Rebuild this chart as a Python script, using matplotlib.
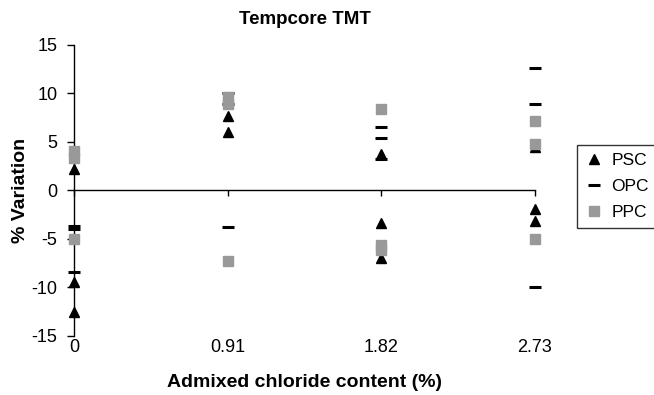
import matplotlib
matplotlib.use("Agg")
import matplotlib.pyplot as plt

plt.rcParams['font.family'] = ['Liberation Sans', 'DejaVu Sans']
plt.rcParams['axes.unicode_minus'] = False

x_ticks = [0, 0.91, 1.82, 2.73]
x_labels = ['0', '0.91', '1.82', '2.73']

# % variation per admixed chloride level
psc_x = [0, 0, 0, 0.91, 0.91, 1.82, 1.82, 1.82, 2.73, 2.73, 2.73]
psc_y = [2.2, -9.4, -12.5, 7.6, 6.0, 3.7, -3.4, -7.0, 4.4, -1.9, -3.2]

opc_x = [0, 0, 0, 0.91, 0.91, 0.91, 1.82, 1.82, 1.82, 2.73, 2.73, 2.73]
opc_y = [-3.7, -4.0, -8.4, 10.0, 8.9, -3.8, 6.5, 5.4, 3.2, 12.6, 8.9, -10.0]

ppc_x = [0, 0, 0, 0.91, 0.91, 0.91, 1.82, 1.82, 1.82, 2.73, 2.73, 2.73]
ppc_y = [4.0, 3.3, -5.0, 9.6, 8.9, -7.3, 8.4, -5.6, -6.1, 7.1, 4.8, -5.0]

fig = plt.figure(figsize=(6.54, 3.95), dpi=100)
ax = fig.add_axes([74/654, 1-336/395, (535-74)/654, (336-44.5)/395])

ax.plot(psc_x, psc_y, ls='none', marker='^', ms=7, color='black',
        label='PSC', clip_on=False, zorder=3)
ax.plot(opc_x, opc_y, ls='none', marker='_', ms=8, mew=2.2, color='black',
        label='OPC', clip_on=False, zorder=4)
ax.plot(ppc_x, ppc_y, ls='none', marker='s', ms=6.5, color='#999999',
        label='PPC', clip_on=False, zorder=5)

ax.set_xlim(0, 2.73)
ax.set_ylim(-15, 15)
ax.set_yticks(range(-15, 16, 5))
ax.tick_params(axis='y', direction='out', length=5, width=1, labelsize=13, pad=7)

# category axis crosses at zero, labels sit below the plot
for s in ['top', 'right']:
    ax.spines[s].set_visible(False)
ax.spines['left'].set_linewidth(1)
ax.spines['bottom'].set_position(('data', 0))
ax.spines['bottom'].set_linewidth(1)
ax.set_xticks(x_ticks)
ax.tick_params(axis='x', direction='out', length=4, width=1, labelbottom=False)

sec = ax.secondary_xaxis(0)
sec.set_xticks(x_ticks)
sec.set_xticklabels(x_labels)
sec.spines['bottom'].set_visible(False)
sec.tick_params(axis='x', length=0, pad=2, labelsize=13)
sec.set_xlabel('Admixed chloride content (%)', fontsize=14, fontweight='bold', labelpad=13)

ax.set_ylabel('% Variation', fontsize=14, fontweight='bold', labelpad=2)
ax.set_title('Tempcore TMT', fontsize=13.5, fontweight='bold', pad=15)

leg = fig.legend(loc='upper left', bbox_to_anchor=(577/654, 1-145/395),
                 fontsize=12.5, frameon=True, fancybox=False, edgecolor='black',
                 handlelength=1.0, handletextpad=0.5, labelspacing=0.6,
                 borderpad=0.48, borderaxespad=0)
leg.get_frame().set_linewidth(1)

fig.savefig('out.png', dpi=100)
